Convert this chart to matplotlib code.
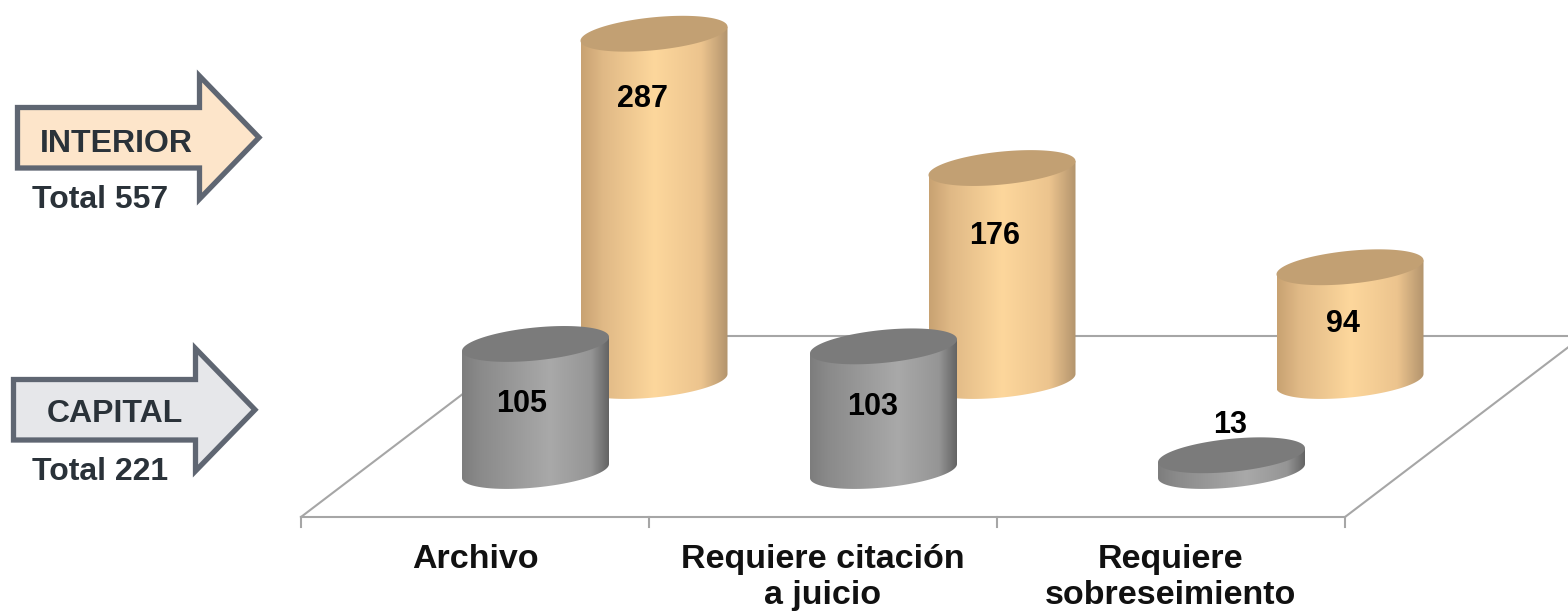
import numpy as np
import matplotlib
matplotlib.use("Agg")
import matplotlib.pyplot as plt
from matplotlib.colors import LinearSegmentedColormap
from matplotlib.patches import Polygon

plt.rcParams['font.family'] = ['Liberation Sans', 'DejaVu Sans']

categories = ["Archivo", "Requiere citación\na juicio", "Requiere\nsobreseimiento"]
capital = [105, 103, 13]
interior = [287, 176, 94]
capital_total = 221
interior_total = 557

W, H = 1568, 613
# pixels per category and per unit
sx, sy = 348, 1.21
front_x, front_y = 535.5, 471   # pixel spot of category 0, value 0 (capital row)
back_dx, back_dy = 118.5, 90    # how far the interior row sits behind

# half width and the ellipse shape of the cylinders, in pixels
rx, ry, tilt = 73.5, 16.5, 7

gray_cmap = LinearSegmentedColormap.from_list("gray3d", [(0, "#7d7d7d"), (0.12, "#8a8a8a"), (0.6, "#a9a9a9"), (0.88, "#959595"), (1, "#646464")])
orange_cmap = LinearSegmentedColormap.from_list("orange3d", [(0, "#c8a272"), (0.15, "#e0b986"), (0.5, "#fdd79c"), (0.82, "#ecc48e"), (1, "#b3946d")])
gray_top = "#7b7b7b"
orange_top = "#c2a073"

line_color = "#a6a6a6"
dark_text = "#2a3239"
arrow_edge = "#5f6672"

fig = plt.figure(figsize=(W / 100, H / 100), dpi=100)

# pixel axes for the floor, arrows and captions
bg = fig.add_axes([0, 0, 1, 1], zorder=0)
bg.set_xlim(0, W)
bg.set_ylim(H, 0)
bg.axis("off")

# floor
bg.plot([301, 1345], [517, 517], color=line_color, lw=1.5)
bg.plot([301, 539], [517, 336], color=line_color, lw=1.5)
bg.plot([1345, 1583], [517, 336], color=line_color, lw=1.5)
bg.plot([539, 1568], [336, 336], color=line_color, lw=1.5)
for tx in [301, 649, 997, 1345]:
    bg.plot([tx, tx], [517, 527], color=line_color, lw=1.5)


def draw_arrow(x0, x1, x2, y_top, y_bot, head_top, head_bot, face):
    y_mid = (head_top + head_bot) / 2
    pts = [(x0, y_top), (x1, y_top), (x1, head_top), (x2, y_mid), (x1, head_bot), (x1, y_bot), (x0, y_bot)]
    bg.add_patch(Polygon(pts, closed=True, facecolor=face, edgecolor=arrow_edge, lw=3.8, joinstyle="miter"))


draw_arrow(17.5, 199.5, 259, 107.5, 168, 76, 199, "#fde5ca")
draw_arrow(13.5, 195.5, 255, 379.5, 440, 348.5, 471, "#e6e7ea")

txt = dict(fontweight="bold", fontsize=22, ha="center", va="center_baseline")
cap = dict(txt, fontsize=23)
bg.text(116, 140, "INTERIOR", color=dark_text, **cap)
bg.text(100, 197, f"Total {interior_total}", color=dark_text, **cap)
bg.text(115, 411, "CAPITAL", color=dark_text, **cap)
bg.text(100, 468, f"Total {capital_total}", color=dark_text, **cap)

cat_txt = dict(txt, fontsize=24.5)
for lab, lx in zip(categories, [475, 823, 1171]):
    lines = lab.split("\n")
    for k, part in enumerate(lines):
        bg.text(lx, 556 + 36 * k, part, color="#111111", **cat_txt)

# value axes: x is the category number, y is the count
ax = fig.add_axes([0, 0, 1, 1], zorder=1)
ax.patch.set_alpha(0)
ax.axis("off")
ax.set_xlim(-front_x / sx, (W - front_x) / sx)
ax.set_ylim((front_y - H) / sy, front_y / sy)


def cylinder(x, base, val, cmap, top_color):
    a, b, c = rx / sx, ry / sy, tilt / sy
    top = base + val
    t = np.linspace(np.pi, 2 * np.pi, 80)
    xs = x + a * np.cos(t)
    ys = base + c * np.cos(t) + b * np.sin(t)
    body = Polygon(np.vstack([np.column_stack([xs, ys]), [[x + a, top + c], [x - a, top - c]]]), closed=True, transform=ax.transData, facecolor="none", edgecolor="none")
    ax.add_patch(body)
    grad = np.linspace(0, 1, 256).reshape(1, -1)
    im = ax.imshow(grad, cmap=cmap, extent=[x - a, x + a, base - b - c * 2, top + b + c * 2], aspect="auto", interpolation="bilinear", zorder=2)
    im.set_clip_path(body)
    t = np.linspace(0, 2 * np.pi, 160)
    ax.fill(x + a * np.cos(t), top + c * np.cos(t) + b * np.sin(t), color=top_color, lw=0, zorder=2)


xpos = np.arange(len(categories))
back_base = back_dy / sy

# interior row goes first, it sits behind
for i, v in zip(xpos, interior):
    cylinder(i + back_dx / sx, back_base, v, orange_cmap, orange_top)
for i, v in zip(xpos, capital):
    cylinder(i, 0, v, gray_cmap, gray_top)

# label offsets from the top of each cylinder, in pixels
capital_dx = [-13.5, -10.5, -1.5]
capital_dy = [-57, -57, 34]
interior_dx = [-12, -7, -7]
interior_dy = [-62, -64, -53]

for i, v, dx, dy in zip(xpos, capital, capital_dx, capital_dy):
    ax.text(i + dx / sx, v + dy / sy, str(v), color="black", zorder=5, **txt)
for i, v, dx, dy in zip(xpos, interior, interior_dx, interior_dy):
    ax.text(i + (back_dx + dx) / sx, back_base + v + dy / sy, str(v), color="black", zorder=5, **txt)

ax.set_xlim(-front_x / sx, (W - front_x) / sx)
ax.set_ylim((front_y - H) / sy, front_y / sy)

fig.savefig("out.png", dpi=100)
